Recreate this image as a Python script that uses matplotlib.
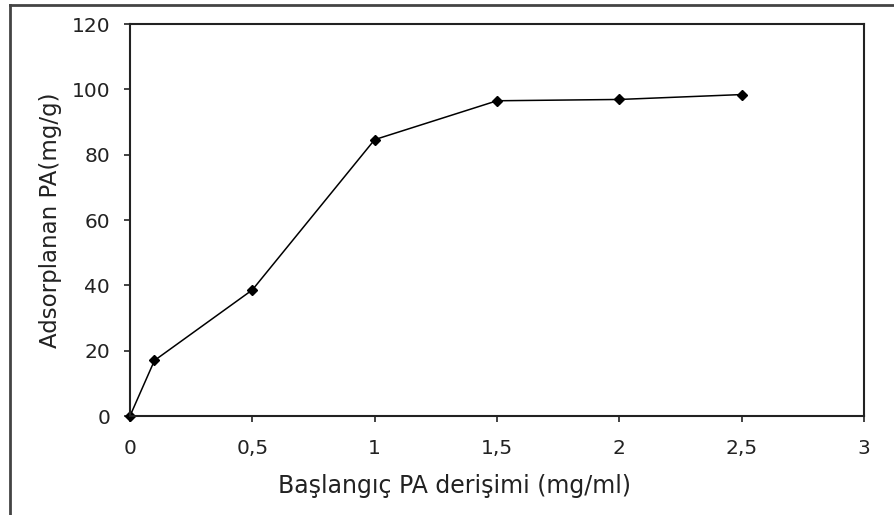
import matplotlib.pyplot as plt
from matplotlib.lines import Line2D

plt.rcParams['font.family'] = ['DejaVu Sans']

# data
x_conc = [0, 0.1, 0.5, 1.0, 1.5, 2.0, 2.5]
y_ads = [0, 17, 38.6, 84.6, 96.5, 96.9, 98.4]
x_ticks = [0, 0.5, 1, 1.5, 2, 2.5, 3]
x_ticklabels = ['0', '0,5', '1', '1,5', '2', '2,5', '3']
y_ticks = [0, 20, 40, 60, 80, 100, 120]

W, H = 894, 515
fig = plt.figure(figsize=(W / 100, H / 100), dpi=100)
ax = fig.add_axes([130 / W, 1 - 416 / H, (864 - 130) / W, (416 - 24) / H])

ax.plot(x_conc, y_ads, color='black', lw=1.1, marker='D', ms=5.5,
        markerfacecolor='black', markeredgecolor='black', clip_on=False)

ax.set_xlim(0, 3)
ax.set_ylim(0, 120)
ax.set_xticks(x_ticks)
ax.set_xticklabels(x_ticklabels)
ax.set_yticks(y_ticks)
ax.tick_params(direction='out', length=4.3, width=1.2, labelsize=14.5, colors='#222222')
ax.tick_params(axis='x', pad=12)
ax.tick_params(axis='y', pad=10)
for s in ax.spines.values():
    s.set_linewidth(1.5)
    s.set_color('#222222')

ax.set_xlabel('Başlangıç PA derişimi (mg/ml)', fontsize=17, color='#222222')
ax.xaxis.set_label_coords((455 - 130) / 734, (416 - 474) / 392)
ax.set_ylabel('Adsorplanan PA(mg/g)', fontsize=16.5, color='#222222')
ax.yaxis.set_label_coords((62 - 130) / 734, 0.5)

# outer chart frame (left and top edges visible)
fig.add_artist(Line2D([10 / W, 10 / W], [0, 1 - 5 / H], color='#444444', lw=2))
fig.add_artist(Line2D([10 / W, 1], [1 - 5 / H, 1 - 5 / H], color='#444444', lw=2))

fig.savefig('out.png', dpi=100)
